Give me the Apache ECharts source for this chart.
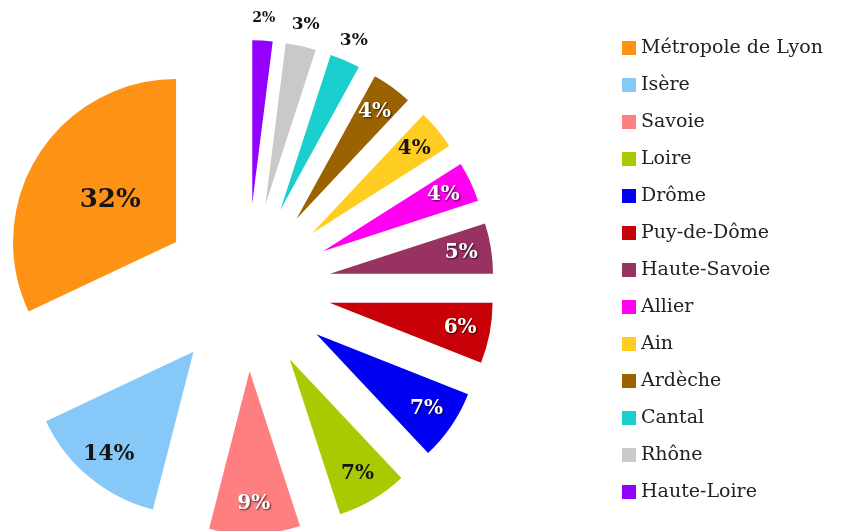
<!DOCTYPE html>
<html>
<head>
<meta charset="utf-8">
<script src="https://cdn.jsdelivr.net/npm/echarts@6/dist/echarts.min.js"></script>
<style>
    html, body { margin: 0; background: #fff; }
    #chart { width: 846px; height: 531px; }
</style>
</head>
<body>
<div id="chart"></div>
<script>
// departments in legend order, drawn counter-clockwise from 12 o'clock
const departements = ['Métropole de Lyon', 'Isère', 'Savoie', 'Loire', 'Drôme', 'Puy-de-Dôme',
    'Haute-Savoie', 'Allier', 'Ain', 'Ardèche', 'Cantal', 'Rhône', 'Haute-Loire'];
const shares = [32, 14, 9, 7, 7, 6, 5, 4, 4, 4, 3, 3, 2];
const colors = ['#fd9214', '#86c8f8', '#ff7f80', '#a9c900', '#0000f2', '#c80008',
    '#983262', '#ff00f0', '#ffcd22', '#9a6300', '#1ccfcf', '#c9c9c9', '#9300ff'];

const whiteLabels = ['Savoie', 'Drôme', 'Puy-de-Dôme', 'Haute-Savoie', 'Allier', 'Ardèche'];
const outerLabels = ['Cantal', 'Rhône', 'Haute-Loire'];
const centerLabels = ['Métropole de Lyon'];
const labelSizes = {'Métropole de Lyon': 26, 'Isère': 22, 'Haute-Loire': 14, 'Rhône': 17, 'Cantal': 17};

const CENTER = [247, 287];
const RADIUS = 163;
const OFFSET = 84;

function labelFor(name, show) {
    const white = whiteLabels.includes(name);
    return {
        show: show,
        position: 'inside',
        formatter: '{c}%',
        fontFamily: 'DejaVu Serif',
        fontWeight: 'bold',
        fontSize: labelSizes[name] || 20,
        color: white ? '#fff' : '#151515',
        textBorderWidth: 0,
        textShadowColor: white ? 'rgba(0,0,0,0.75)' : 'transparent',
        textShadowBlur: 2,
        textShadowOffsetX: 1,
        textShadowOffsetY: 1
    };
}

// the label-only rings are transparent copies of the pie, their radius just places the text
function pieSeries(radius, visible, group) {
    return {
        type: 'pie',
        center: CENTER,
        radius: radius,
        startAngle: 90,
        clockwise: false,
        selectedMode: 'multiple',
        selectedOffset: OFFSET,
        avoidLabelOverlap: false,
        silent: true,
        labelLine: {show: false},
        select: {itemStyle: {borderWidth: 0}},
        data: departements.map((name, i) => ({
            name: name,
            value: shares[i],
            selected: true,
            itemStyle: {color: visible ? colors[i] : 'rgba(0,0,0,0)', borderWidth: 0},
            label: labelFor(name, group(name))
        }))
    };
}

const chart = echarts.init(document.getElementById('chart'));
chart.setOption({
    animation: false,
    backgroundColor: '#fff',
    legend: {
        orient: 'vertical',
        left: 622,
        top: 37,
        height: 490,
        padding: 0,
        icon: 'rect',
        itemWidth: 14,
        itemHeight: 14,
        itemGap: 15,
        selectedMode: false,
        data: departements,
        textStyle: {fontFamily: 'DejaVu Serif', fontSize: 19, color: '#222', lineHeight: 22}
    },
    series: [
        pieSeries([0, RADIUS], true, () => false),
        pieSeries([0, 150], false, name => centerLabels.includes(name)),
        pieSeries([97, RADIUS], false, name => !centerLabels.includes(name) && !outerLabels.includes(name)),
        pieSeries([RADIUS, RADIUS + 38], false, name => outerLabels.includes(name))
    ]
});
</script>
</body>
</html>
